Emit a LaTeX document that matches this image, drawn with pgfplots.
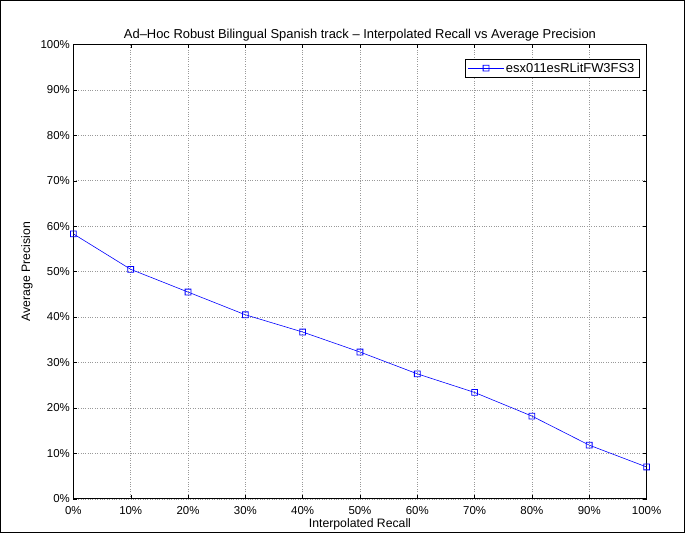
\documentclass[border=0pt]{standalone}
\usepackage{pgfplots}
\pgfplotsset{compat=1.18}
\usepackage{fontspec}
\setmainfont{Liberation Sans}
\definecolor{mblue}{RGB}{0,0,255}

% hollow blue square drawn as an even-odd filled frame
\pgfdeclareplotmark{hsq}{%
  \pgfsetfillcolor{mblue}%
  \pgfpathrectangle{\pgfpoint{-\pgfplotmarksize}{-\pgfplotmarksize}}{\pgfpoint{2\pgfplotmarksize}{2\pgfplotmarksize}}%
  \pgfpathrectangle{\pgfpoint{-\pgfplotmarksize+0.8pt}{-\pgfplotmarksize+0.8pt}}{\pgfpoint{2\pgfplotmarksize-1.6pt}{2\pgfplotmarksize-1.6pt}}%
  \pgfseteorule\pgfusepathqfill}

\begin{document}
\begin{tikzpicture}
\begin{axis}[
    name=ax,
    scale only axis,
    width=574bp, height=455bp,
    xmin=0, xmax=100, ymin=0, ymax=100,
    xtick={0,10,...,100}, ytick={0,10,...,100},
    xticklabels={0\%,10\%,20\%,30\%,40\%,50\%,60\%,70\%,80\%,90\%,100\%},
    yticklabels={0\%,10\%,20\%,30\%,40\%,50\%,60\%,70\%,80\%,90\%,100\%},
    tick align=inside,
    major tick length=4bp,
    tick style={black, line width=0.4pt},
    axis line style={black, line width=0.6pt},
    grid=major,
    major grid style={dotted, gray!80, line width=0.5pt},
    ticklabel style={font=\fontsize{11.5}{13}\selectfont},
    xticklabel style={anchor=center, yshift=-12bp},
    label style={font=\fontsize{12.3}{14}\selectfont},
    title style={font=\fontsize{13}{15}\selectfont, yshift=-6bp},
    xlabel={Interpolated Recall},
    ylabel={Average Precision},
    xlabel style={at={(axis description cs:0.5,0)}, anchor=center, yshift=-26bp},
    ylabel style={at={(axis description cs:-0.081,0.5)}, anchor=center},
    title={Ad--Hoc Robust Bilingual Spanish track -- Interpolated Recall vs Average Precision},
    legend style={at={(0.988,0.968)}, anchor=north east, draw=black, line width=0.6pt,
        font=\fontsize{13}{15}\selectfont, inner xsep=3bp, inner ysep=1.5pt, row sep=0pt},
    legend cell align=left,
    legend image code/.code={
        \draw[#1] (0cm,0cm) -- (1.25cm,0cm);
        \draw[#1, mark repeat=2, mark phase=2] plot coordinates {(0cm,0cm) (0.625cm,0cm) (1.25cm,0cm)};
    },
]
\addplot[color=mblue, line width=0.6pt, mark=hsq, mark size=3.3bp,
    mark options={solid, fill=mblue}]
coordinates {
    (0,58.3) (10,50.5) (20,45.5) (30,40.5) (40,36.7) (50,32.3)
    (60,27.5) (70,23.4) (80,18.2) (90,11.8) (100,7.0)
};
\addlegendentry{esx011esRLitFW3FS3}
\end{axis}
\draw[line width=1bp] ([shift={(-73bp,-34bp)}]ax.south west) rectangle ([shift={(38bp,44bp)}]ax.north east);
\end{tikzpicture}
\end{document}
